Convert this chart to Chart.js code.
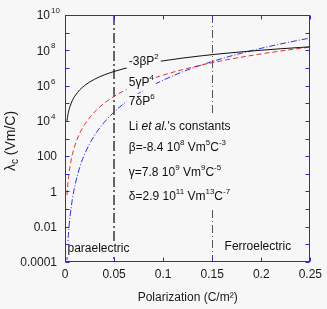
<!DOCTYPE html>
<html><head><meta charset="utf-8">
<script src="https://cdn.jsdelivr.net/npm/chart.js@4.4.1/dist/chart.umd.min.js"></script>
<style>html,body{margin:0;padding:0;background:#f7f7f7;overflow:hidden}</style>
</head><body><canvas id="c" width="327" height="309"></canvas>
<script>
// ---- data ----
const polarization = [0.002,0.003,0.004,0.005,0.0075,0.01,0.015,0.02,0.03,0.04,0.05,0.06,0.07,0.08,0.09,0.10,0.12,0.14,0.16,0.18,0.20,0.22,0.24,0.25];
const term2 = [1.0e4,2.3e4,4.0e4,6.3e4,1.42e5,2.52e5,5.67e5,1.01e6,2.27e6,4.03e6,6.3e6,9.07e6,1.23e7,1.61e7,2.04e7,2.52e7,3.63e7,4.94e7,6.45e7,8.16e7,1.01e8,1.22e8,1.45e8,1.58e8];
const term4 = [0.62,3.2,10,24,123,390,1.98e3,6.2e3,3.16e4,1.0e5,2.44e5,5.05e5,9.36e5,1.6e6,2.56e6,3.9e6,8.1e6,1.5e7,2.56e7,4.1e7,6.24e7,9.14e7,1.29e8,1.52e8];
const term6 = [1.3e-4,1.5e-3,8.3e-3,3.2e-2,0.36,2.0,23,130,1.48e3,8.3e3,3.17e4,9.5e4,2.39e5,5.3e5,1.08e6,2.03e6,6.06e6,1.53e7,3.41e7,6.9e7,1.3e8,2.3e8,3.88e8,4.96e8];
const seriesNames = ['-3βP²','5γP⁴','7δP⁶'];
const xTickValues = [0,0.05,0.1,0.15,0.2,0.25];
const yDecades = [1e-4,1e-3,1e-2,1e-1,1,10,100,1e3,1e4,1e5,1e6,1e7,1e8,1e9,1e10];
const yLabelValues = [1e-4,1e-2,1,100,1e4,1e6,1e8,1e10];
const yLabelBase = ['0.0001','0.01','1','100','10','10','10','10'];
const yLabelExp  = ['','','','','4','6','8','10'];
const boundaries = [0.05,0.15];
const xTitle = 'Polarization (C/m²)';

// ---- styling / annotations ----
const BG = '#f7f7f7';
const FONT = '"Liberation Sans", Arial, Helvetica, sans-serif';
const AXIS = '#2a2acc';
const annotations = [
  {x:0.065, y:2.3e7, segs:[['-3βP','n'],['2','sup']], box:true},
  {x:0.065, y:1.46e6, segs:[['5γP','n'],['4','sup']], box:true},
  {x:0.065, y:1.23e5, segs:[['7δP','n'],['6','sup']], box:true},
  {x:0.065, y:4.6e3, segs:[['Li ','n'],['et al.','it'],["'s constants",'n']]},
  {x:0.065, y:2.95e2, segs:[['β=-8.4 10','n'],['8','sup'],[' Vm','n'],['5','sup'],['C','n'],['-3','sup']]},
  {x:0.065, y:11, segs:[['γ=7.8 10','n'],['9','sup'],[' Vm','n'],['9','sup'],['C','n'],['-5','sup']]},
  {x:0.065, y:0.49, segs:[['δ=2.9 10','n'],['11','sup'],[' Vm','n'],['13','sup'],['C','n'],['-7','sup']]},
  {x:0.0025, y:5.4e-4, segs:[['paraelectric','n']], box:true},
  {x:0.1626, y:7.1e-4, segs:[['Ferroelectric','n']], box:true}
];

let baseSize = 12;
function fontFor(style){
  if(style==='sup'||style==='sub') return Math.round(baseSize*0.7)+'px '+FONT;
  if(style==='it') return 'italic '+baseSize+'px '+FONT;
  return baseSize+'px '+FONT;
}
function richWidth(ctx,segs){let w=0;for(const [t,s] of segs){ctx.font=fontFor(s);w+=ctx.measureText(t).width;}return w;}
function drawRich(ctx,x,y,segs){
  ctx.textBaseline='middle';ctx.textAlign='left';
  let cx=x;
  for(const [t,s] of segs){
    ctx.font=fontFor(s);
    let dy=0; if(s==='sup')dy=-baseSize*0.42; if(s==='sub')dy=baseSize*0.33;
    ctx.fillText(t,cx,y+dy);
    cx+=ctx.measureText(t).width;
  }
  return cx;
}

const points = arr => polarization.map((p,i)=>({x:p,y:arr[i]}));

const overlay = {
  id:'overlay',
  beforeDraw(chart){
    const ctx=chart.ctx; ctx.save(); ctx.fillStyle=BG; ctx.fillRect(0,0,chart.width,chart.height); ctx.restore();
  },
  beforeDatasetsDraw(chart){
    const {ctx,chartArea:a,scales:{x}}=chart;
    ctx.save();
    boundaries.forEach((b,i)=>{
      const px=Math.round(x.getPixelForValue(b))+(i===0?0:0.5);
      ctx.strokeStyle=i===0?'#666666':'#555555';
      ctx.lineWidth=i===0?2:1;
      ctx.setLineDash(i===0?[10,3,2,3]:[8,3,1,3]);
      ctx.beginPath();ctx.moveTo(px,a.top);ctx.lineTo(px,a.bottom);ctx.stroke();
    });
    ctx.restore();
  },
  afterDatasetsDraw(chart){
    const {ctx,chartArea:a,scales:{x,y}}=chart;
    ctx.save();
    baseSize=12;
    // constants block background
    const cx0=x.getPixelForValue(0.065)-2;
    const ctop=y.getPixelForValue(4.6e3)-12, cbot=y.getPixelForValue(0.49)+11;
    ctx.fillStyle=BG;
    ctx.fillRect(cx0,ctop,richWidth(ctx,annotations[3].segs)+4,cbot-ctop);
    // annotations
    annotations.forEach(an=>{
      const px=x.getPixelForValue(an.x), py=y.getPixelForValue(an.y);
      if(an.box){ctx.fillStyle=BG;ctx.fillRect(px-2,py-8,richWidth(ctx,an.segs)+4,16);}
      ctx.fillStyle='#111';
      drawRich(ctx,px,py,an.segs);
    });
    // frame
    ctx.strokeStyle=AXIS;ctx.lineWidth=1;ctx.setLineDash([]);
    const L=Math.round(a.left)+0.5,R=Math.round(a.right)-0.5,T=Math.round(a.top)+0.5,B=Math.round(a.bottom)-0.5;
    ctx.strokeRect(L,T,R-L,B-T);
    // ticks inside
    ctx.beginPath();
    yDecades.forEach(v=>{const py=Math.round(y.getPixelForValue(v))+0.5;ctx.moveTo(L,py);ctx.lineTo(L+4,py);ctx.moveTo(R,py);ctx.lineTo(R-4,py);});
    xTickValues.forEach(v=>{const px=Math.round(x.getPixelForValue(v))+0.5;ctx.moveTo(px,B);ctx.lineTo(px,B-4);ctx.moveTo(px,T);ctx.lineTo(px,T+4);});
    ctx.stroke();
    // y tick labels
    ctx.fillStyle='#1a1a1a';
    yLabelValues.forEach((v,i)=>{
      const py=y.getPixelForValue(v);
      ctx.font='12px '+FONT;ctx.textBaseline='middle';
      if(yLabelExp[i]){
        ctx.textAlign='right';ctx.fillText(yLabelBase[i],a.left-15,py+1);
        ctx.textAlign='left';ctx.font='8px '+FONT;ctx.fillText(yLabelExp[i],a.left-14,py-4);
      } else {
        ctx.textAlign='right';ctx.fillText(yLabelBase[i],a.left-8,py+1);
      }
    });
    // x title
    ctx.font='12px '+FONT;ctx.textAlign='center';ctx.textBaseline='middle';
    ctx.fillText(xTitle,(a.left+a.right)/2,298);
    // y title (rotated) λc (Vm/C)
    baseSize=14;
    ctx.translate(11,141);ctx.rotate(-Math.PI/2);
    const ys=[['λ','n'],['c','sub'],[' (Vm/C)','n']];
    const w=richWidth(ctx,ys);
    drawRich(ctx,-w/2,0,ys);
    ctx.restore();
  }
};

new Chart(document.getElementById('c'),{
  type:'line',
  data:{datasets:[
    {label:seriesNames[0],data:points(term2),borderColor:'#111111',borderWidth:1,pointRadius:0,cubicInterpolationMode:'monotone'},
    {label:seriesNames[1],data:points(term4),borderColor:'#e03030',borderWidth:1,borderDash:[5,3],pointRadius:0,cubicInterpolationMode:'monotone'},
    {label:seriesNames[2],data:points(term6),borderColor:'#3030e0',borderWidth:1,borderDash:[6,2,1,2],pointRadius:0,cubicInterpolationMode:'monotone'}
  ]},
  options:{
    responsive:false,animation:false,devicePixelRatio:1,
    layout:{padding:{top:15,right:16,left:0,bottom:0}},
    plugins:{legend:{display:false},tooltip:{enabled:false}},
    scales:{
      x:{type:'linear',min:0,max:0.25,
        grid:{display:false,drawTicks:false},border:{display:false},
        afterBuildTicks:s=>{s.ticks=xTickValues.map(v=>({value:v}));},
        afterFit:s=>{s.height=47;},
        ticks:{padding:5,maxRotation:0,autoSkip:false,color:'#1a1a1a',font:{family:FONT,size:12},
          callback:v=>String(+Number(v).toFixed(2))}},
      y:{type:'logarithmic',min:1e-4,max:1e10,
        grid:{display:false,drawTicks:false},border:{display:false},
        ticks:{display:false},
        afterFit:s=>{s.width=65;}}
    }
  },
  plugins:[overlay]
});
</script>
</body></html>
